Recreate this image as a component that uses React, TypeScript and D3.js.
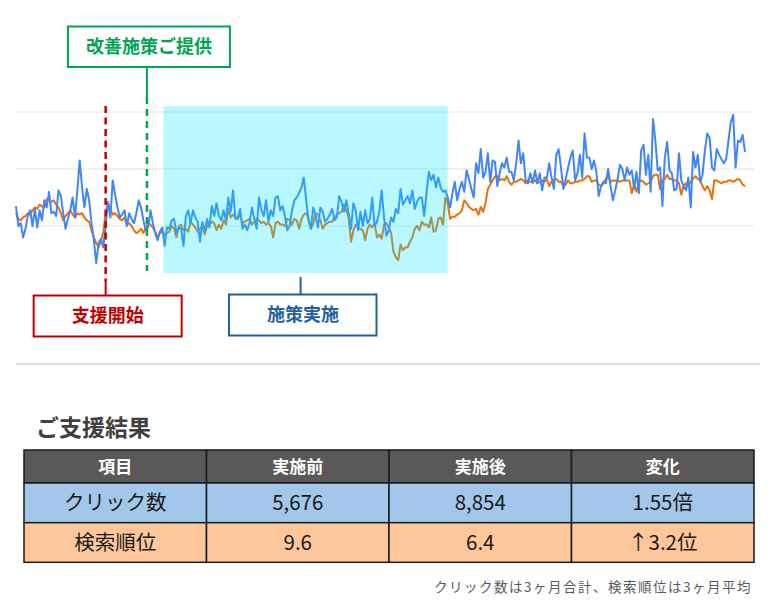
import React from 'react';
import * as d3 from 'd3';

// Daily clicks (blue)
const clicks: number[] = [
  // segment 1
  54, 40, 42, 32, 38, 47, 51, 40, 52, 39, 51, 44, 58, 53, 64, 49, 50, 47, 65, 61,
  49, 38, 45, 51, 60, 46, 65, 86, 67, 53, 66, 58, 42, 30, 14, 28, 31, 25, 40, 57,
  46, 72, 62, 53, 46, 48, 51, 40, 49, 45, 42, 49, 58, 53, 44, 37, 39, 51, 42, 35, 30,
  // segment 2
  36, 39, 26, 39, 38, 44, 45, 35, 39, 38, 26, 47, 51, 42, 51, 46, 43, 29, 43, 36,
  45, 39, 54, 47, 56, 47, 44, 51, 44, 60, 50, 65, 45, 46, 52, 38, 41, 37, 42, 53,
  45, 38, 60, 51, 47, 58, 43, 51, 47, 60, 61, 51, 54, 47, 37, 40, 51, 58, 60, 63, 67, 74,
  // segment 3
  58, 44, 38, 53, 47, 39, 53, 50, 43, 45, 48, 52, 44, 46, 61, 57, 50, 58, 49, 38,
  56, 51, 37, 50, 40, 51, 42, 45, 60, 40, 43, 50, 65, 46, 33, 37, 46, 43, 52, 49,
  66, 55, 58, 61, 56, 65, 52, 57, 60, 60, 47, 63, 78, 72, 76, 67, 74, 67, 64, 65, 60,
  // segment 4
  53, 63, 71, 58, 66, 71, 64, 79, 73, 66, 60, 84, 77, 94, 74, 78, 91, 71, 86, 85,
  68, 77, 84, 81, 88, 78, 78, 72, 84, 100, 84, 91, 72, 70, 77, 70, 79, 70, 77, 65,
  74, 74, 84, 74, 66, 90, 94, 81, 66, 73, 81, 88, 93, 72, 77, 90, 74, 105, 88, 88, 80, 86,
  // segment 5
  78, 61, 68, 71, 70, 80, 68, 58, 65, 73, 83, 80, 72, 81, 76, 79, 66, 78, 63, 93,
  97, 76, 90, 64, 115, 100, 79, 81, 54, 88, 99, 79, 77, 65, 66, 91, 72, 68, 65, 74,
  53, 92, 81, 90, 71, 76, 93, 105, 102, 81, 79, 94, 90, 87, 84, 87, 100, 113, 118, 81,
  100, 99, 104, 92,
];

// Daily average search position (orange)
const positions: number[] = [
  // segment 1
  9.1, 9.5, 9.6, 9.4, 9.3, 9.1, 9.2, 8.9, 8.7, 8.8, 8.5, 8.6, 8.7, 8.1, 8.2, 8.3, 8.2, 8.5, 8.7, 9.1,
  9.6, 9.3, 9.1, 8.9, 9.2, 9.4, 9.1, 9.2, 9.1, 9.4, 9.6, 9.7, 10.3, 10.8, 11.2, 11.5, 11.1, 10.4, 9.1, 8.4,
  8.9, 9.2, 9.1, 9.3, 9.5, 9.6, 9.4, 9.9, 9.8, 10.0, 10.3, 10.5, 10.4, 10.2, 10.5, 10.1, 9.8, 9.9, 10.1, 10.4, 10.8,
  // segment 2
  10.5, 10.4, 10.6, 10.5, 10.4, 10.0, 10.2, 10.8, 10.0, 9.9, 10.3, 10.2, 10.4, 9.7, 9.9, 10.1, 10.4, 10.2, 10.0, 10.6,
  10.0, 9.9, 9.7, 9.8, 10.3, 9.9, 10.2, 9.6, 9.9, 8.8, 9.4, 9.2, 9.4, 9.5, 9.2, 9.8, 9.7, 9.6, 9.5, 9.9,
  9.7, 9.5, 9.6, 9.8, 9.7, 9.9, 9.8, 10.0, 10.8, 9.8, 9.7, 9.9, 9.9, 10.0, 9.5, 9.6, 9.9, 9.5, 9.6, 10.2, 9.5, 9.2,
  // segment 3
  9.1, 9.5, 10.2, 9.8, 9.1, 9.2, 9.6, 10.2, 9.9, 9.8, 9.7, 9.7, 9.4, 9.2, 9.1, 9.0, 8.5, 8.9, 9.4, 11.1,
  10.3, 9.9, 10.1, 10.2, 10.3, 11.0, 10.2, 9.9, 10.1, 9.8, 10.8, 10.6, 10.9, 9.9, 9.8, 10.1, 10.5, 11.8, 12.2, 12.4,
  11.3, 11.7, 11.5, 11.5, 11.1, 10.8, 10.2, 10.0, 10.3, 9.7, 9.9, 9.9, 10.1, 9.4, 10.4, 10.3, 9.5, 9.4, 9.9, 8.0, 8.4,
  // segment 4
  9.5, 9.35, 9.35, 9.2, 9.1, 8.9, 8.2, 8.4, 8.65, 8.8, 8.9, 8.8, 9.2, 8.65, 9.0, 8.4, 7.4, 7.1, 6.8, 6.5,
  6.5, 6.8, 6.7, 6.8, 6.5, 6.9, 7.1, 6.9, 6.9, 6.8, 6.7, 6.8, 7.0, 6.8, 6.9, 6.9, 6.8, 7.0, 6.9, 6.8,
  6.9, 6.7, 7.2, 6.9, 6.8, 6.7, 6.9, 6.9, 7.2, 7.1, 6.8, 7.0, 7.0, 6.9, 6.9, 6.8, 6.8, 6.7, 6.5, 6.5, 6.9, 6.8,
  // segment 5
  6.8, 7.1, 7.2, 7.0, 6.7, 6.5, 6.9, 6.8, 6.8, 6.8, 6.9, 6.8, 6.8, 6.8, 6.8, 7.7, 7.1, 7.6, 6.9, 6.8,
  6.9, 7.1, 7.0, 6.9, 6.5, 6.4, 6.4, 7.4, 6.8, 6.7, 6.4, 6.7, 6.7, 6.8, 6.8, 7.0, 7.8, 7.2, 7.0, 7.2,
  6.9, 6.7, 6.5, 6.7, 6.8, 7.2, 7.5, 7.2, 7.5, 8.1, 6.8, 6.8, 6.9, 7.0, 6.9, 6.9, 6.8, 6.8, 6.9, 6.8,
  6.7, 6.8, 7.1, 7.2,
];

const gridTicks = [40, 80, 120];

// event days (index in the daily series)
const supportStartDay = 38;
const proposalDay = 55.5;
const implStartDay = 62.5;
const implEndDay = 183;

const tableHeader = ['項目', '実施前', '実施後', '変化'];
const tableRows = [
  ['クリック数', '5,676', '8,854', '1.55倍'],
  ['検索順位', '9.6', '6.4', '↑3.2位'],
];

const FONT = '"Noto Sans CJK JP", "Noto Sans", sans-serif';

export default function App() {
  const n = clicks.length;
  const x = d3.scaleLinear().domain([0, n - 1]).range([16, 745]);
  const yClicks = d3.scaleLinear().domain([0, 120]).range([283, 112]);
  const yPos = d3.scaleLinear().domain([14, 2]).range([283, 112]);

  const clickLine = d3
    .line<number>()
    .x((_, i) => x(i))
    .y((d) => yClicks(d));
  const posLine = d3
    .line<number>()
    .x((_, i) => x(i))
    .y((d) => yPos(d));

  const xs = d3.scaleLinear().domain([0, 4]).range([24, 754]);
  const rowTops = [450, 483, 522.7, 562.3];
  const rowFills = ['#595959', '#a3c7ea', '#fec79b'];

  const red = '#c00000';
  const green = '#00a650';
  const blue = '#23609e';

  const xSupport = x(supportStartDay);
  const xProposal = x(proposalDay);
  const xImplMid = (x(implStartDay) + x(implEndDay)) / 2;

  return (
    <svg
      width={778}
      height={611}
      style={{ position: 'absolute', left: 0, top: 0, display: 'block', background: '#fff' }}
      fontFamily={FONT}
    >
      {/* gridlines */}
      {gridTicks.map((t) => (
        <line key={t} x1={16} x2={754} y1={yClicks(t)} y2={yClicks(t)} stroke="#ececec" strokeWidth={1.5} />
      ))}

      {/* series */}
      <path d={posLine(positions) || ''} fill="none" stroke="#e8710a" strokeWidth={2} strokeLinejoin="round" />
      <path d={clickLine(clicks) || ''} fill="none" stroke="#4285f4" strokeWidth={2} strokeLinejoin="round" />

      {/* implementation period overlay */}
      <rect
        x={x(implStartDay)}
        y={106}
        width={x(implEndDay) - x(implStartDay)}
        height={167}
        fill="rgb(0,229,255)"
        fillOpacity={0.275}
      />

      {/* support start marker */}
      <line x1={xSupport} x2={xSupport} y1={106} y2={281} stroke={red} strokeWidth={2.5} strokeDasharray="7,4.5" />
      <line x1={xSupport} x2={xSupport} y1={280} y2={295} stroke={red} strokeWidth={2} />
      <rect x={xSupport - 72} y={295.5} width={148} height={41} fill="#fff" stroke={red} strokeWidth={2} />
      <text x={xSupport + 2} y={322} textAnchor="middle" fontSize={18} fontWeight={700} fill={red}>
        支援開始
      </text>

      {/* proposal marker */}
      <line x1={xProposal} x2={xProposal} y1={67} y2={97} stroke={green} strokeWidth={2} />
      <line x1={xProposal} x2={xProposal} y1={97} y2={271} stroke={green} strokeWidth={2.5} strokeDasharray="7,5" />
      <rect x={xProposal - 79} y={26.5} width={162} height={40.5} fill="#fff" stroke={green} strokeWidth={2} />
      <text x={xProposal + 2} y={52.5} textAnchor="middle" fontSize={18} fontWeight={700} fill={green}>
        改善施策ご提供
      </text>

      {/* implementation marker */}
      <line x1={xImplMid - 5} x2={xImplMid - 5} y1={277} y2={294} stroke={blue} strokeWidth={2} />
      <rect x={229} y={294.5} width={147.5} height={41} fill="#fff" stroke={blue} strokeWidth={2} />
      <text x={303} y={321} textAnchor="middle" fontSize={18} fontWeight={700} fill={blue}>
        施策実施
      </text>

      {/* separator */}
      <line x1={16} x2={760} y1={364} y2={364} stroke="#d6d6d6" strokeWidth={1.5} />

      {/* results title */}
      <text x={36} y={436} fontSize={23} fontWeight={700} fill="#404040">
        ご支援結果
      </text>

      {/* table */}
      {[tableHeader, ...tableRows].map((row, r) => (
        <g key={r}>
          {row.map((cell, c) => (
            <g key={c}>
              <rect
                x={xs(c)}
                y={rowTops[r]}
                width={xs(c + 1) - xs(c)}
                height={rowTops[r + 1] - rowTops[r]}
                fill={rowFills[r]}
                stroke="#1a1a1a"
                strokeWidth={1.5}
              />
              <text
                x={(xs(c) + xs(c + 1)) / 2}
                y={(rowTops[r] + rowTops[r + 1]) / 2}
                dy="0.36em"
                textAnchor="middle"
                fontSize={r === 0 ? 17 : 20.5}
                fontWeight={r === 0 ? 700 : 400}
                fill={r === 0 ? '#ffffff' : '#1a1a1a'}
              >
                {cell}
              </text>
            </g>
          ))}
        </g>
      ))}

      {/* footnote */}
      <text x={752} y={592} textAnchor="end" fontSize={13.5} fill="#595959" letterSpacing={1.5}>
        クリック数は3ヶ月合計、検索順位は3ヶ月平均
      </text>
    </svg>
  );
}
